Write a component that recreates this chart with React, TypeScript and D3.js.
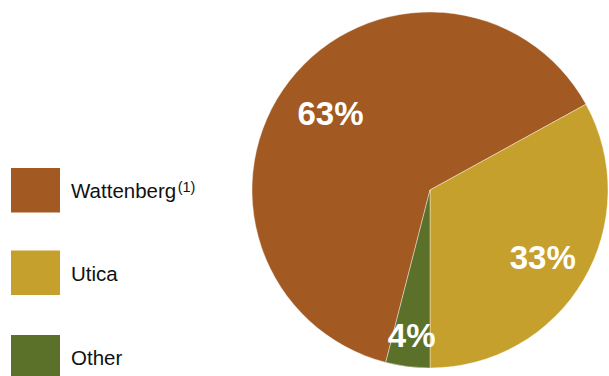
import React from "react";
import * as d3 from "d3";

const categories = ["Wattenberg", "Utica", "Other"];
const superscripts = ["(1)", "", ""];
const values = [63, 33, 4];
const labels = ["63%", "33%", "4%"];
const colors = ["#A35A22", "#C6A02C", "#5B7029"];

const W = 609;
const H = 376;
const cx = 430;
const cy = 190;
const R = 178;
const labelRadii = [126, 131, 146];
const legendTops = [168, 250.5, 335];

export default function App() {
  const start = (-165.6 * Math.PI) / 180;
  const pie = d3
    .pie<number>()
    .sort(null)
    .value((d) => d)
    .startAngle(start)
    .endAngle(start + 2 * Math.PI);
  const arcs = pie(values);
  const arc = d3.arc<d3.PieArcDatum<number>>().innerRadius(0).outerRadius(R);

  return (
    <svg
      width={W}
      height={H}
      style={{ position: "absolute", left: 0, top: 0, display: "block" }}
      fontFamily="'Liberation Sans', Arial, sans-serif"
    >
      <rect width={W} height={H} fill="#ffffff" />
      <g transform={`translate(${cx},${cy})`}>
        {arcs.map((a, i) => (
          <path key={i} d={arc(a) || ""} fill={colors[i]} stroke="#ffffff" strokeWidth={0.4} />
        ))}
        {arcs.map((a, i) => {
          const mid = (a.startAngle + a.endAngle) / 2;
          const r = labelRadii[i];
          const x = r * Math.sin(mid);
          const y = -r * Math.cos(mid);
          return (
            <text
              key={i}
              x={x}
              y={y}
              dy="0.36em"
              textAnchor="middle"
              fill="#ffffff"
              fontWeight="bold"
              fontSize={33}
            >
              {labels[i]}
            </text>
          );
        })}
      </g>
      {categories.map((c, i) => (
        <g key={c}>
          <rect x={11} y={legendTops[i]} width={49} height={44.5} fill={colors[i]} />
          <text x={71} y={legendTops[i] + 30} fontSize={20.5} fill="#111111">
            {c}
            {superscripts[i] ? (
              <tspan fontSize={14.5} dy={-6} dx={1.5}>
                {superscripts[i]}
              </tspan>
            ) : null}
          </text>
        </g>
      ))}
    </svg>
  );
}
